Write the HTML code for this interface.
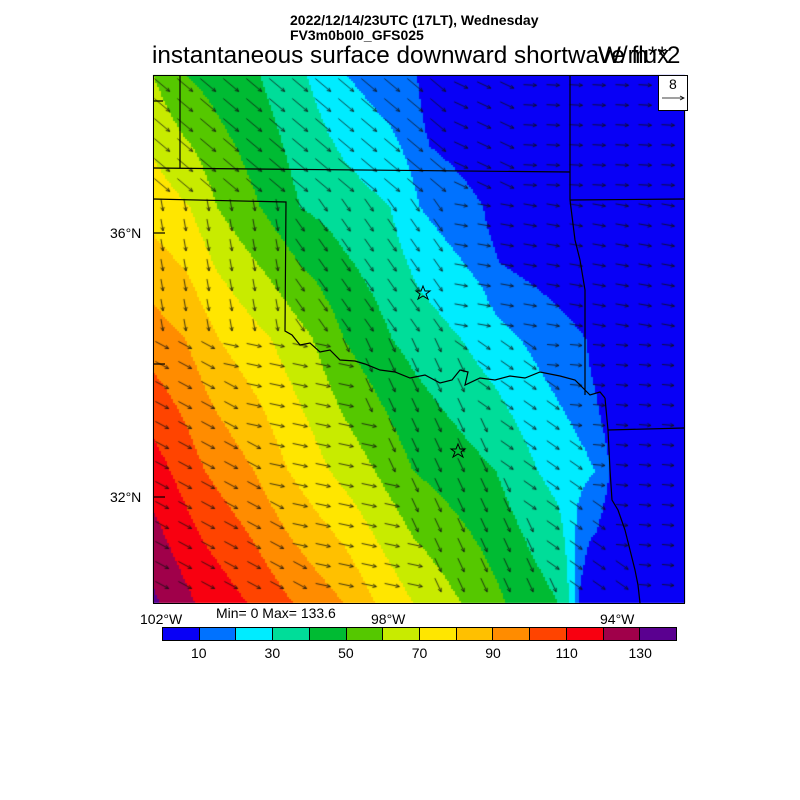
<!DOCTYPE html>
<html><head><meta charset="utf-8"><style>
body{margin:0;background:#fff;width:800px;height:800px;position:relative;overflow:hidden;font-family:"Liberation Sans",sans-serif}
.t{position:absolute;white-space:nowrap;color:#000}
</style></head><body>
<div class="t" style="left:290px;top:12px;font-size:14px;font-weight:bold">2022/12/14/23UTC (17LT), Wednesday</div>
<div class="t" style="left:290px;top:27px;font-size:14px;font-weight:bold">FV3m0b0I0_GFS025</div>
<div class="t" style="left:152px;top:42px;font-size:24.3px">instantaneous surface downward shortwave flux</div>
<div class="t" style="left:598px;top:42px;font-size:24.3px">W/m**2</div>
<canvas id="c" width="800" height="800" style="position:absolute;left:0;top:0"></canvas>
<svg width="800" height="800" style="position:absolute;left:0;top:0" fill="none" stroke="#000">
<g stroke-width="1.2">
<polyline points="180,75 180,168"/>
<polyline points="153,168 570,172"/>
<polyline points="570,75 570,200"/>
<polyline points="570,200 684,199"/>
<polyline points="570,200 575,240 580,260 585,290 585,395"/>
<polyline points="153,199 286,202 285,331 292,335 300,345 310,343 320,352 330,350 340,360 355,361 365,364 380,370 395,372 410,378 425,375 440,383 452,380 460,370 468,372 465,385 480,378 495,380 510,376 525,378 540,372 560,376 575,380 590,395 600,392 605,398"/>
<polyline points="605,398 608,430 610,470 612,500 618,510 625,530 630,550 635,570 638,585 640,603"/>
<polyline points="608,430 684,428"/>
<polyline points="153,101 163,101"/><polyline points="153,233 165,233"/><polyline points="153,364 165,364"/><polyline points="153,497 165,497"/>
</g>
<polygon points="423,286 425,291 430,291 426,294 428,299 423,296 418,299 420,294 416,291 421,291" stroke-width="1"/>
<polygon points="458,444 460,449 465,449 461,452 463,457 458,454 453,457 455,452 451,449 456,449" stroke-width="1"/>
<rect x="153.5" y="75.5" width="531" height="528" stroke-width="1"/>
<rect x="658.5" y="75.5" width="29" height="35" fill="#fff" stroke-width="1"/>
<line x1="662" y1="98" x2="684" y2="98" stroke-width=".8"/><polyline points="680,96 684,98 680,100" stroke-width=".8"/>
</svg>
<div class="t" style="left:669px;top:76px;font-size:14px">8</div>
<div class="t" style="left:110px;top:225px;font-size:14px">36°N</div>
<div class="t" style="left:110px;top:489px;font-size:14px">32°N</div>
<div class="t" style="left:140px;top:611px;font-size:14px">102°W</div>
<div class="t" style="left:371px;top:611px;font-size:14px">98°W</div>
<div class="t" style="left:600px;top:611px;font-size:14px">94°W</div>
<div class="t" style="left:216px;top:605px;font-size:14px">Min= 0 Max= 133.6</div>
<div id="cb" style="position:absolute;left:162px;top:627px;width:515px;height:14px;display:flex;border:1px solid #000;box-sizing:border-box"></div>
<div id="lb"></div>
<script>
var cols=["#0800f6","#0072ff","#00ecff","#00dd99","#00bb33","#55c800","#c8eb00","#ffe600","#ffc000","#ff8c00","#ff4400","#f80010","#a0004a","#5a0090"];
var cb=document.getElementById('cb');
cols.forEach(function(c,i){var d=document.createElement('div');d.style.cssText='flex:1;background:'+c+(i?';border-left:1px solid #000':'');cb.appendChild(d);});
var lb=document.getElementById('lb');
[10,30,50,70,90,110,130].forEach(function(v,i){var d=document.createElement('div');d.className='t';d.style.cssText='font-size:14px;top:645px;width:40px;text-align:center;left:'+(162+515*(2*i+1)/14-20)+'px';d.textContent=v;lb.appendChild(d);});
var RY=[75,207,339,471,603];
var R=[
[[153,60],[185,50],[260,40],[307,30],[347,20],[417,10],[430,0],[684,-10]],
[[153,76],[190,70],[217,60],[260,50],[300,40],[390,30],[420,20],[483,10],[500,0],[684,-10]],
[[153,95],[185,90],[219,80],[271,70],[313,60],[344,50],[392,40],[461,30],[520,20],[586,10],[600,0],[684,-10]],
[[153,115],[205,100],[254,90],[288,80],[330,70],[375,60],[413,50],[496,40],[538,30],[596,20],[610,10],[620,0],[684,-10]],
[[153,132],[160,130],[195,120],[247,110],[293,100],[344,90],[375,80],[413,70],[461,60],[506,50],[558,40],[569,30],[574,20],[578,10],[590,0],[684,-20]]];
function rv(r,x){var k=R[r];for(var i=0;i<k.length-1;i++){if(x<=k[i+1][0]){var u=(x-k[i][0])/(k[i+1][0]-k[i][0]);return k[i][1]+u*(k[i+1][1]-k[i][1]);}}return k[k.length-1][1];}
function val(x,y){var j=Math.min(3,Math.max(0,Math.floor((y-75)/132)));var w=(y-RY[j])/132;
var v=rv(j,x)*(1-w)+rv(j+1,x)*w;if(x>612&&y>400)v=0;return v;}
var ctx=document.getElementById('c').getContext('2d');
for(var y=75;y<603;y+=2)for(var x=153;x<684;x+=2){var v=val(x+1,y+1);var k=Math.max(0,Math.min(13,Math.floor(v/10)));ctx.fillStyle=cols[k];ctx.fillRect(x,y,2,2);}
ctx.strokeStyle="#111";ctx.lineWidth=0.8;
for(var j=0;j<26;j++)for(var i=0;i<23;i++){var x0=162+23*i,y0=85+20*j;if(x0>675||y0>598)continue;
var ang,L=15;
if(y0<200){if(x0<450){ang=40;L=20;}else if(x0<520){ang=25;L=15;}else{ang=3;L=13;}}
else if(y0<=330){if(x0<300){ang=80;L=12;}else if(x0<450){ang=55;L=15;}else{ang=10;L=13;}}
else{var d=x0-153-(y0-330)*0.4;if(d<60)ang=28;else if(d<180)ang=12;else if(d<300)ang=65;else if(d<380)ang=35;else{ang=5;L=12;}}
var a=ang*Math.PI/180;
var dx=Math.cos(a)*L,dy=Math.sin(a)*L;var x1=x0-dx/2,y1=y0-dy/2,x2=x0+dx/2,y2=y0+dy/2;
ctx.beginPath();ctx.moveTo(x1,y1);ctx.lineTo(x2,y2);
var h=4,b=0.45;ctx.moveTo(x2-h*Math.cos(a-b),y2-h*Math.sin(a-b));ctx.lineTo(x2,y2);ctx.lineTo(x2-h*Math.cos(a+b),y2-h*Math.sin(a+b));ctx.stroke();}
</script>
</body></html>
